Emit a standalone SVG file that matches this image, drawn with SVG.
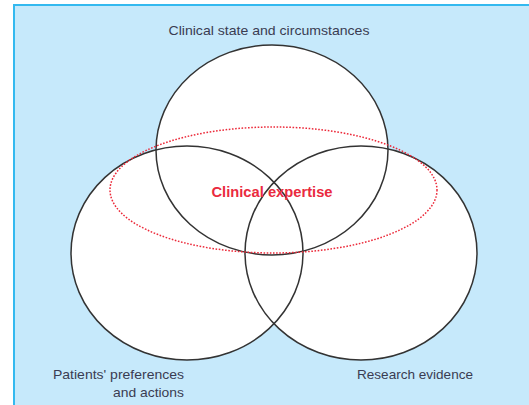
<svg xmlns="http://www.w3.org/2000/svg" width="529" height="405" viewBox="0 0 529 405">
<defs>
<style>
.ring{fill:none;stroke:#333;stroke-width:1.5}
.fillw{fill:#fff;stroke:none}
.lbl{font-family:"Liberation Sans",Arial,sans-serif;font-size:13px;fill:#3a3c52}
.exp{fill:none;stroke:#ec2a3a;stroke-width:1.5;stroke-dasharray:1.6 1.6}
.expt{font-family:"Liberation Sans",Arial,sans-serif;font-size:15.5px;font-weight:bold;fill:#ea2a40}
</style>
</defs>
<rect x="14" y="5" width="530" height="420" fill="#c6e9fb" stroke="#33b9ef" stroke-width="2"/>
<g id="fills">
<ellipse class="fillw" cx="272" cy="150" rx="116" ry="105"/>
<ellipse class="fillw" cx="187" cy="253" rx="116" ry="107"/>
<ellipse class="fillw" cx="361" cy="253" rx="116" ry="107"/>
</g>
<g id="connectors"></g>
<g id="clinical-state">
<ellipse class="ring" cx="272" cy="150" rx="116" ry="105"/>
<text class="lbl" x="269" y="35" text-anchor="middle" textLength="201" lengthAdjust="spacingAndGlyphs">Clinical state and circumstances</text>
</g>
<g id="patients-preferences">
<ellipse class="ring" cx="187" cy="253" rx="116" ry="107"/>
<text class="lbl" x="184" y="379" text-anchor="end" textLength="131" lengthAdjust="spacingAndGlyphs">Patients' preferences</text>
<text class="lbl" x="184" y="397" text-anchor="end" textLength="71" lengthAdjust="spacingAndGlyphs">and actions</text>
</g>
<g id="research-evidence">
<ellipse class="ring" cx="361" cy="253" rx="116" ry="107"/>
<text class="lbl" x="415" y="379" text-anchor="middle" textLength="116" lengthAdjust="spacingAndGlyphs">Research evidence</text>
</g>
<g id="clinical-expertise">
<ellipse class="exp" cx="273.5" cy="190" rx="163.5" ry="63"/>
<text class="expt" x="272" y="197" text-anchor="middle" textLength="121" lengthAdjust="spacingAndGlyphs">Clinical expertise</text>
</g>
</svg>
